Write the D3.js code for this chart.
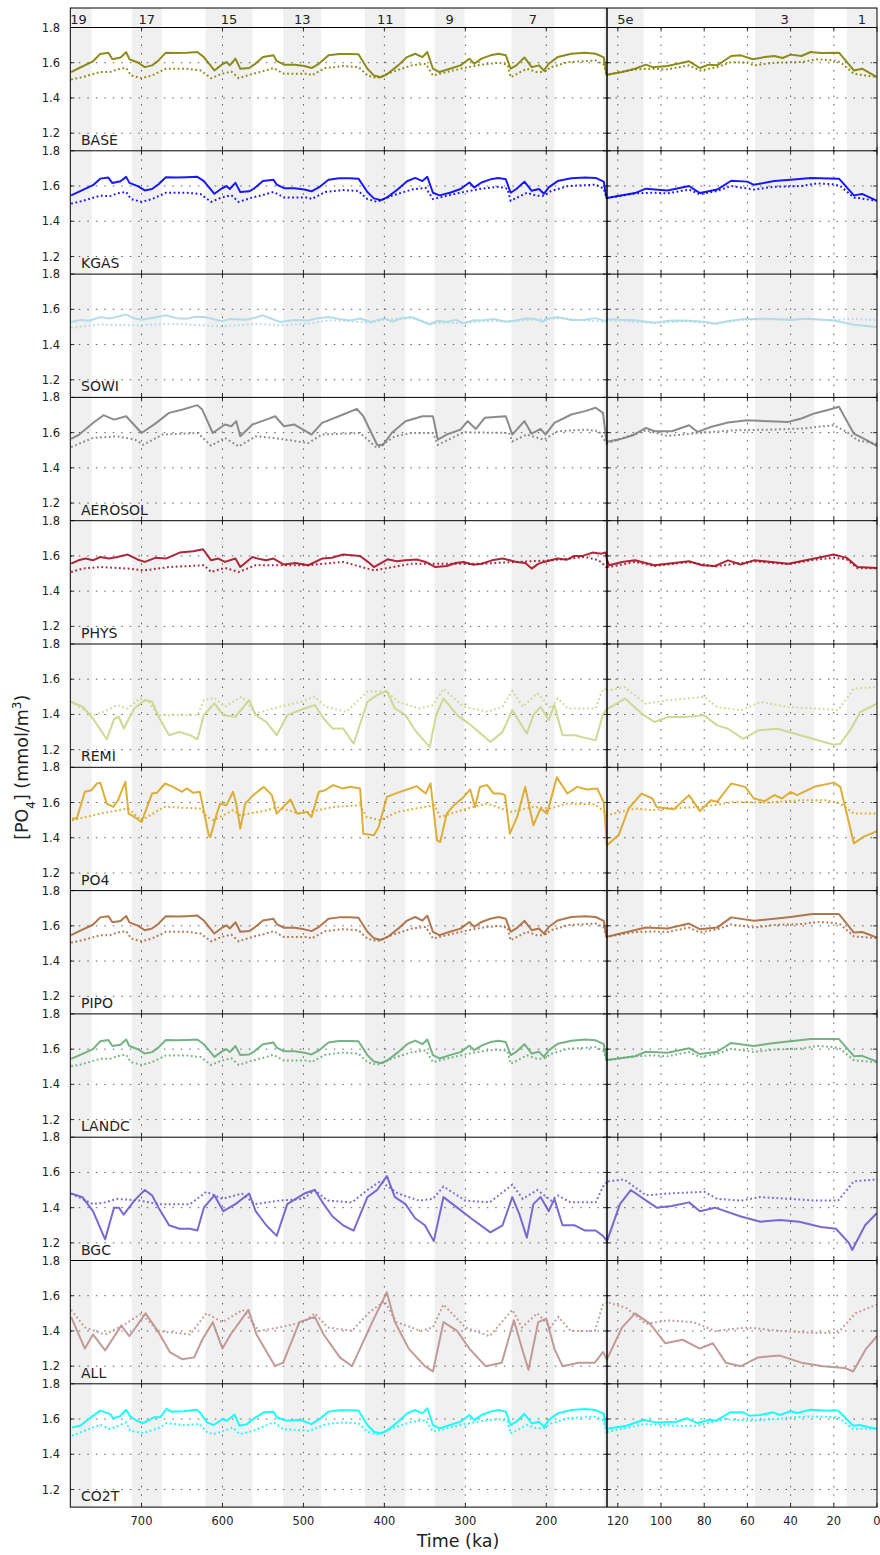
<!DOCTYPE html>
<html>
<head>
<meta charset="utf-8">
<script src="https://cdn.jsdelivr.net/npm/d3@7"></script>
<style>
  body { margin: 0; background: #fff; }
  text { font-family: "DejaVu Sans", sans-serif; fill: #222; }
</style>
</head>
<body>
<svg width="880" height="1555"></svg>
<script>
// ---- data -----------------------------------------------------------
var runNames  = ["BASE", "KGAS", "SOWI", "AEROSOL", "PHYS", "REMI", "PO4", "PIPO", "LANDC", "BGC", "ALL", "CO2T"];
var runColors = ["#808000", "#0000ff", "#add8e6", "#808080", "#a50f25", "#c8d68a", "#daa520", "#a8683c", "#66aa77", "#6a5acd", "#bc8f8f", "#00ffff"];

// interglacial periods (ka), shaded
var interglacials = [[790, 761.6], [712, 675], [621, 563], [525, 478], [424, 374], [338, 301], [243, 190], [129, 108], [56.5, 29], [14, 0]];
var stageLabels   = ["19", "17", "15", "13", "11", "9", "7", "5e", "3", "1"];

var leftTicks  = [700, 600, 500, 400, 300, 200];
var rightTicks = [120, 100, 80, 60, 40, 20, 0];
var yTicks     = [1.2, 1.4, 1.6, 1.8];

// [age ka, PO4 mmol/m3]
var baseSolid = [[787,1.547],[777,1.57],[760,1.608],[751,1.65],[741,1.657],[736,1.62],[726,1.63],[719,1.66],[715,1.62],[704,1.6],[696,1.575],[687,1.585],[679,1.613],[670,1.657],[657,1.655],[644,1.657],[631,1.661],[623,1.632],[610,1.556],[601,1.589],[595,1.604],[591,1.585],[584,1.623],[578,1.566],[567,1.57],[561,1.589],[550,1.632],[537,1.642],[533,1.61],[524,1.589],[511,1.589],[499,1.581],[490,1.57],[481,1.594],[469,1.642],[456,1.65],[443,1.65],[432,1.648],[421,1.566],[413,1.528],[404,1.518],[396,1.537],[383,1.585],[372,1.632],[362,1.651],[353,1.632],[347,1.661],[340,1.566],[332,1.547],[319,1.566],[306,1.585],[295,1.623],[289,1.594],[280,1.623],[269,1.642],[259,1.651],[250,1.642],[244,1.566],[237,1.585],[227,1.63],[218,1.575],[209,1.585],[203,1.556],[197,1.594],[186,1.632],[169,1.651],[152,1.657],[139,1.651],[129,1.63],[125.5,1.531],[118,1.547],[112,1.566],[107,1.589],[104,1.575],[97,1.581],[87,1.608],[82,1.57],[78,1.589],[74,1.585],[67.5,1.638],[63,1.642],[57.5,1.62],[52,1.632],[47.5,1.638],[43.7,1.627],[40,1.646],[35,1.638],[30.7,1.661],[26,1.655],[17.6,1.657],[10.7,1.556],[6.9,1.566],[0,1.518]];
var baseDotted = [[787,1.505],[773,1.518],[751,1.547],[739,1.547],[730,1.562],[719,1.57],[713,1.528],[700,1.512],[687,1.528],[670,1.566],[644,1.566],[627,1.556],[614,1.512],[601,1.537],[589,1.55],[580,1.512],[563,1.537],[546,1.556],[537,1.57],[524,1.537],[494,1.537],[490,1.528],[473,1.57],[451,1.581],[432,1.575],[421,1.528],[409,1.512],[391,1.547],[366,1.585],[349,1.594],[340,1.528],[323,1.547],[302,1.57],[280,1.589],[259,1.6],[248,1.589],[244,1.518],[224,1.566],[212,1.547],[203,1.547],[194,1.575],[173,1.604],[139,1.613],[129,1.59],[125.5,1.531],[112,1.562],[104,1.566],[97,1.562],[87,1.585],[82,1.556],[74,1.575],[67.5,1.604],[60,1.6],[57,1.585],[47.5,1.6],[35,1.604],[27.6,1.62],[20,1.613],[17,1.604],[10.7,1.537],[0,1.518]];

var kgasSolid = [[787,1.547],[777,1.568],[760,1.605],[751,1.642],[741,1.648],[736,1.617],[726,1.627],[719,1.652],[715,1.618],[704,1.598],[696,1.575],[687,1.583],[679,1.61],[670,1.65],[657,1.648],[644,1.65],[631,1.652],[623,1.628],[610,1.556],[601,1.586],[595,1.6],[591,1.583],[584,1.618],[578,1.566],[567,1.57],[561,1.586],[550,1.628],[537,1.636],[533,1.608],[524,1.588],[511,1.588],[499,1.58],[490,1.57],[481,1.592],[469,1.636],[456,1.644],[443,1.644],[432,1.642],[421,1.566],[413,1.53],[404,1.52],[396,1.537],[383,1.583],[372,1.627],[362,1.646],[353,1.628],[347,1.652],[340,1.562],[332,1.547],[319,1.562],[306,1.583],[295,1.62],[289,1.592],[280,1.62],[269,1.638],[259,1.646],[250,1.638],[244,1.562],[237,1.583],[227,1.625],[218,1.573],[209,1.583],[203,1.556],[197,1.592],[186,1.628],[169,1.644],[152,1.648],[139,1.646],[129,1.625],[125.5,1.531],[112,1.56],[107,1.585],[97,1.575],[87,1.6],[82,1.56],[74,1.58],[67.5,1.63],[60,1.625],[57,1.607],[47.5,1.628],[40,1.636],[30.7,1.646],[17.6,1.642],[10.7,1.547],[6.9,1.555],[0,1.516]];
var kgasDotted = [[787,1.5],[773,1.515],[751,1.545],[739,1.543],[730,1.558],[719,1.566],[713,1.526],[700,1.51],[687,1.526],[670,1.562],[644,1.562],[627,1.554],[614,1.51],[601,1.535],[589,1.548],[580,1.51],[563,1.535],[546,1.554],[537,1.566],[524,1.535],[494,1.535],[490,1.526],[473,1.566],[451,1.577],[432,1.572],[421,1.526],[409,1.51],[391,1.545],[366,1.58],[349,1.59],[340,1.526],[323,1.545],[302,1.566],[280,1.585],[259,1.596],[248,1.585],[244,1.516],[224,1.562],[212,1.545],[203,1.545],[194,1.572],[173,1.6],[139,1.608],[129,1.585],[125.5,1.531],[112,1.558],[104,1.562],[97,1.558],[87,1.58],[82,1.553],[74,1.572],[67.5,1.6],[57,1.58],[47.5,1.596],[35,1.6],[27.6,1.615],[20,1.61],[17,1.6],[10.7,1.535],[0,1.516]];

var sowiSolid = [[787,1.528],[775,1.54],[765,1.535],[751,1.556],[740,1.548],[728,1.56],[719,1.571],[710,1.55],[700,1.541],[685,1.552],[670,1.566],[657,1.55],[644,1.547],[633,1.558],[623,1.556],[612,1.545],[601,1.533],[590,1.545],[571,1.541],[560,1.552],[550,1.566],[540,1.548],[529,1.528],[512,1.54],[494,1.537],[482,1.55],[469,1.556],[456,1.545],[443,1.537],[430,1.548],[417,1.528],[408,1.54],[400,1.547],[390,1.53],[380,1.548],[366,1.556],[355,1.535],[344,1.514],[334,1.535],[323,1.528],[312,1.54],[302,1.522],[290,1.538],[280,1.537],[265,1.545],[250,1.53],[237,1.537],[226,1.548],[216,1.547],[205,1.53],[195,1.55],[186,1.556],[170,1.54],[152,1.541],[140,1.55],[126,1.533],[124,1.543],[112,1.538],[103,1.524],[96,1.535],[89,1.537],[80,1.53],[75,1.518],[68,1.535],[63,1.543],[51,1.547],[40,1.54],[32,1.547],[20,1.537],[10.7,1.512],[0,1.5]];
var sowiDotted = [[787,1.495],[751,1.514],[708,1.509],[665,1.518],[623,1.509],[601,1.503],[558,1.518],[529,1.509],[494,1.518],[469,1.537],[443,1.533],[417,1.524],[400,1.541],[366,1.55],[344,1.52],[323,1.524],[302,1.52],[280,1.533],[237,1.533],[216,1.541],[186,1.55],[152,1.537],[126,1.53],[124,1.537],[103,1.522],[89,1.533],[75,1.518],[63,1.54],[51,1.543],[32,1.545],[20,1.537],[10.7,1.547],[0,1.537]];

var aerosolSolid = [[787,1.564],[777,1.589],[760,1.655],[747,1.699],[734,1.674],[719,1.693],[700,1.598],[683,1.651],[666,1.712],[649,1.731],[631,1.756],[625,1.731],[612,1.598],[597,1.646],[589,1.636],[583,1.665],[578,1.579],[563,1.646],[546,1.674],[535,1.693],[524,1.636],[511,1.646],[490,1.589],[477,1.655],[451,1.703],[434,1.735],[426,1.693],[409,1.531],[402,1.528],[391,1.598],[374,1.665],[353,1.693],[340,1.693],[334,1.56],[323,1.589],[306,1.617],[297,1.665],[287,1.621],[276,1.684],[250,1.693],[242,1.589],[227,1.665],[218,1.594],[207,1.621],[201,1.589],[190,1.655],[169,1.703],[152,1.722],[139,1.741],[130,1.712],[125.5,1.547],[118,1.566],[113,1.585],[107,1.627],[103,1.608],[95,1.608],[87,1.642],[83,1.604],[77,1.632],[69,1.657],[60,1.67],[50,1.665],[41,1.661],[35,1.68],[29,1.709],[21.5,1.733],[17.6,1.747],[10.7,1.594],[4.6,1.556],[0,1.524]];
var aerosolDotted = [[787,1.518],[760,1.57],[730,1.579],[708,1.56],[698,1.531],[674,1.589],[631,1.598],[614,1.526],[597,1.57],[580,1.522],[559,1.579],[537,1.57],[494,1.541],[477,1.589],[430,1.598],[409,1.512],[387,1.579],[366,1.598],[340,1.598],[334,1.531],[302,1.602],[246,1.598],[242,1.55],[224,1.589],[203,1.56],[186,1.608],[152,1.617],[135,1.608],[125.5,1.537],[107,1.613],[97,1.581],[81,1.6],[66,1.613],[50,1.617],[35,1.623],[20,1.642],[14,1.604],[9,1.556],[0,1.537]];

var physSolid = [[787,1.556],[778,1.575],[769,1.585],[760,1.575],[751,1.594],[740,1.585],[730,1.594],[717,1.608],[705,1.58],[696,1.566],[683,1.589],[670,1.585],[653,1.619],[636,1.627],[624,1.638],[614,1.575],[605,1.585],[597,1.566],[584,1.585],[578,1.537],[563,1.594],[554,1.582],[546,1.575],[537,1.585],[524,1.551],[510,1.56],[494,1.547],[477,1.585],[465,1.59],[451,1.608],[430,1.6],[420,1.565],[413,1.537],[396,1.581],[385,1.57],[374,1.575],[360,1.58],[349,1.566],[337,1.537],[323,1.543],[312,1.56],[302,1.566],[290,1.55],[280,1.556],[267,1.575],[254,1.585],[245,1.575],[237,1.566],[226,1.56],[218,1.528],[210,1.555],[203,1.566],[186,1.585],[175,1.578],[165,1.6],[155,1.6],[143,1.619],[132,1.613],[126.5,1.62],[124,1.547],[118,1.566],[112,1.575],[103,1.547],[87,1.57],[81,1.547],[75,1.543],[69,1.575],[63,1.551],[57,1.575],[41,1.556],[29,1.585],[20,1.608],[14,1.589],[9,1.537],[0,1.532]];
var physDotted = [[787,1.509],[773,1.528],[751,1.537],[717,1.528],[696,1.518],[666,1.537],[623,1.547],[614,1.509],[597,1.532],[580,1.509],[559,1.547],[494,1.547],[451,1.566],[413,1.518],[366,1.556],[280,1.556],[237,1.566],[194,1.575],[152,1.594],[135,1.575],[126,1.537],[124,1.537],[112,1.566],[103,1.543],[87,1.565],[75,1.54],[57,1.57],[41,1.553],[29,1.578],[20,1.59],[14,1.58],[9,1.53],[0,1.53]];

var remiSolid = [[787,1.472],[773,1.444],[760,1.377],[743,1.259],[734,1.373],[728,1.387],[722,1.32],[709,1.434],[696,1.482],[687,1.472],[679,1.387],[666,1.282],[653,1.301],[640,1.282],[631,1.259],[623,1.396],[610,1.463],[599,1.396],[584,1.387],[567,1.482],[559,1.396],[546,1.358],[533,1.282],[520,1.396],[499,1.434],[486,1.453],[475,1.377],[464,1.32],[451,1.32],[438,1.234],[421,1.472],[409,1.51],[397,1.533],[387,1.434],[374,1.396],[362,1.31],[344,1.215],[336,1.396],[327,1.491],[310,1.396],[293,1.339],[269,1.244],[254,1.301],[242,1.425],[233,1.358],[224,1.291],[216,1.396],[207,1.444],[197,1.368],[190,1.453],[180,1.282],[165,1.282],[152,1.267],[139,1.253],[130,1.4],[124,1.437],[116.6,1.49],[109,1.405],[103,1.357],[97,1.385],[89,1.385],[80,1.395],[74,1.338],[69,1.319],[62,1.262],[55,1.31],[46,1.319],[35,1.281],[20,1.228],[17,1.234],[12,1.319],[7.7,1.414],[0,1.461]];
var remiDotted = [[787,1.472],[760,1.396],[747,1.415],[730,1.453],[717,1.434],[702,1.491],[691,1.472],[679,1.396],[631,1.396],[623,1.482],[610,1.495],[597,1.444],[576,1.501],[559,1.406],[529,1.444],[503,1.472],[486,1.501],[473,1.444],[447,1.415],[421,1.53],[397,1.53],[383,1.472],[357,1.434],[340,1.453],[327,1.545],[302,1.444],[272,1.415],[254,1.444],[242,1.533],[229,1.444],[211,1.52],[194,1.434],[186,1.491],[173,1.434],[139,1.434],[130,1.545],[124,1.537],[117,1.556],[107,1.461],[97,1.48],[80,1.5],[74,1.442],[63,1.424],[54,1.471],[41,1.442],[27.6,1.433],[18,1.424],[10.7,1.547],[0,1.556]];

var po4Solid = [[786,1.509],[780,1.509],[770,1.661],[762,1.67],[755,1.708],[751,1.712],[743,1.594],[735,1.575],[729,1.613],[720,1.718],[716,1.537],[710,1.522],[700,1.49],[687,1.651],[681,1.655],[671,1.708],[661,1.689],[650,1.661],[644,1.68],[636,1.655],[628,1.661],[624,1.575],[617,1.414],[615,1.404],[607,1.537],[603,1.594],[595,1.585],[587,1.661],[583,1.594],[578,1.452],[572,1.594],[562,1.642],[549,1.689],[539,1.642],[533,1.537],[516,1.617],[508,1.537],[496,1.547],[490,1.518],[481,1.661],[473,1.67],[463,1.699],[452,1.68],[442,1.689],[430,1.68],[426,1.423],[413,1.414],[407,1.461],[397,1.632],[384,1.655],[372,1.674],[360,1.693],[349,1.651],[343,1.708],[335,1.385],[331,1.376],[323,1.537],[314,1.585],[302,1.632],[294,1.674],[288,1.575],[282,1.689],[273,1.699],[265,1.651],[257,1.651],[251,1.642],[245,1.423],[236,1.518],[226,1.689],[220,1.556],[216,1.471],[207,1.566],[199,1.537],[187,1.743],[174,1.651],[162,1.689],[150,1.674],[137,1.68],[129,1.6],[125,1.358],[119.6,1.415],[115,1.566],[109,1.651],[104,1.623],[102,1.575],[94,1.562],[87,1.642],[82,1.551],[77,1.613],[74,1.604],[67.5,1.708],[61,1.689],[57,1.623],[52,1.608],[47.5,1.642],[44,1.623],[40,1.66],[37,1.642],[29,1.689],[20,1.713],[17,1.689],[10.7,1.368],[6.1,1.406],[0,1.438]];
var po4Dotted = [[786,1.499],[751,1.537],[717,1.566],[700,1.499],[679,1.556],[671,1.575],[628,1.566],[619,1.518],[611,1.499],[587,1.556],[578,1.528],[545,1.556],[533,1.575],[505,1.537],[492,1.547],[463,1.575],[430,1.585],[422,1.518],[405,1.499],[384,1.547],[338,1.585],[331,1.518],[298,1.566],[273,1.594],[244,1.547],[216,1.575],[195,1.566],[174,1.594],[140,1.59],[128,1.547],[125,1.528],[112,1.566],[104,1.557],[97,1.566],[81,1.575],[66,1.604],[51,1.6],[35,1.613],[23,1.613],[17,1.594],[10.7,1.538],[0,1.538]];

var pipoSolid = [[787,1.547],[777,1.57],[760,1.606],[751,1.648],[741,1.655],[736,1.62],[726,1.628],[719,1.656],[715,1.62],[704,1.6],[696,1.575],[687,1.585],[679,1.612],[670,1.655],[657,1.653],[644,1.655],[631,1.658],[623,1.63],[610,1.556],[601,1.588],[595,1.603],[591,1.585],[584,1.62],[578,1.566],[567,1.57],[561,1.588],[550,1.63],[537,1.64],[533,1.61],[524,1.589],[511,1.589],[499,1.58],[490,1.57],[481,1.593],[469,1.64],[456,1.648],[443,1.648],[432,1.646],[421,1.566],[413,1.53],[404,1.52],[396,1.537],[383,1.584],[372,1.63],[362,1.65],[353,1.63],[347,1.658],[340,1.566],[332,1.547],[319,1.566],[306,1.584],[295,1.622],[289,1.594],[280,1.622],[269,1.64],[259,1.65],[250,1.64],[244,1.566],[237,1.585],[227,1.628],[218,1.575],[209,1.585],[203,1.556],[197,1.593],[186,1.63],[169,1.65],[152,1.655],[139,1.65],[129,1.628],[125.5,1.537],[107,1.59],[97,1.585],[87,1.613],[82,1.581],[74,1.59],[67.5,1.648],[57,1.629],[47.5,1.64],[40,1.65],[30,1.667],[17.6,1.667],[10.7,1.562],[6.9,1.565],[0,1.533]];
var pipoDotted = [[787,1.505],[773,1.518],[751,1.547],[739,1.547],[730,1.562],[719,1.57],[713,1.528],[700,1.512],[687,1.528],[670,1.566],[644,1.566],[627,1.556],[614,1.512],[601,1.537],[589,1.55],[580,1.512],[563,1.537],[546,1.556],[537,1.57],[524,1.537],[494,1.537],[490,1.528],[473,1.57],[451,1.581],[432,1.575],[421,1.528],[409,1.512],[391,1.547],[366,1.585],[349,1.594],[340,1.528],[323,1.547],[302,1.57],[280,1.589],[259,1.6],[248,1.589],[244,1.518],[224,1.566],[212,1.547],[203,1.547],[194,1.575],[173,1.604],[139,1.613],[129,1.59],[125.5,1.537],[112,1.565],[104,1.568],[97,1.565],[87,1.59],[82,1.562],[74,1.58],[67.5,1.608],[57,1.59],[47.5,1.605],[35,1.61],[27.6,1.622],[20,1.617],[17,1.608],[10.7,1.54],[0,1.53]];

var landcSolid = [[787,1.545],[777,1.565],[760,1.6],[751,1.645],[741,1.652],[736,1.618],[726,1.625],[719,1.655],[715,1.618],[704,1.598],[696,1.575],[687,1.583],[679,1.61],[670,1.652],[657,1.65],[644,1.652],[631,1.655],[623,1.628],[610,1.556],[601,1.586],[595,1.6],[591,1.583],[584,1.618],[578,1.566],[567,1.57],[561,1.586],[550,1.628],[537,1.638],[533,1.608],[524,1.588],[511,1.588],[499,1.58],[490,1.57],[481,1.592],[469,1.638],[456,1.646],[443,1.646],[432,1.645],[421,1.566],[413,1.53],[404,1.52],[396,1.537],[383,1.583],[372,1.628],[362,1.648],[353,1.628],[347,1.655],[340,1.566],[332,1.547],[319,1.566],[306,1.583],[295,1.62],[289,1.594],[280,1.62],[269,1.64],[259,1.648],[250,1.64],[244,1.566],[237,1.585],[227,1.628],[218,1.575],[209,1.585],[203,1.556],[197,1.593],[186,1.63],[169,1.648],[152,1.655],[139,1.65],[129,1.628],[125.5,1.537],[112,1.56],[107,1.585],[97,1.58],[87,1.605],[82,1.572],[74,1.585],[67.5,1.635],[57,1.618],[47.5,1.635],[40,1.645],[30.7,1.658],[17.6,1.657],[10.7,1.56],[6.9,1.562],[0,1.53]];
var landcDotted = [[787,1.502],[773,1.515],[751,1.545],[739,1.545],[730,1.56],[719,1.568],[713,1.526],[700,1.51],[687,1.526],[670,1.564],[644,1.564],[627,1.555],[614,1.51],[601,1.535],[589,1.548],[580,1.51],[563,1.535],[546,1.555],[537,1.568],[524,1.535],[494,1.535],[490,1.526],[473,1.568],[451,1.58],[432,1.574],[421,1.526],[409,1.51],[391,1.546],[366,1.583],[349,1.592],[340,1.526],[323,1.546],[302,1.568],[280,1.588],[259,1.598],[248,1.588],[244,1.516],[224,1.565],[212,1.546],[203,1.546],[194,1.574],[173,1.602],[139,1.611],[129,1.588],[125.5,1.535],[112,1.56],[104,1.564],[97,1.56],[87,1.583],[82,1.555],[74,1.573],[67.5,1.602],[57,1.584],[47.5,1.598],[35,1.603],[27.6,1.618],[20,1.612],[17,1.602],[10.7,1.537],[0,1.525]];

var bgcSolid = [[787,1.48],[773,1.46],[760,1.38],[745,1.22],[734,1.4],[728,1.4],[722,1.36],[709,1.44],[696,1.5],[687,1.47],[679,1.4],[666,1.3],[653,1.28],[640,1.28],[631,1.27],[623,1.4],[610,1.47],[599,1.38],[584,1.42],[567,1.48],[559,1.38],[546,1.3],[533,1.24],[520,1.42],[499,1.48],[486,1.5],[475,1.42],[464,1.35],[451,1.3],[438,1.27],[421,1.46],[409,1.5],[397,1.58],[387,1.46],[374,1.42],[362,1.34],[350,1.3],[339,1.21],[327,1.46],[310,1.4],[293,1.34],[269,1.26],[254,1.3],[242,1.46],[233,1.36],[224,1.23],[216,1.42],[207,1.46],[197,1.38],[190,1.45],[180,1.3],[165,1.3],[152,1.27],[139,1.27],[130,1.24],[125,1.21],[119,1.42],[114,1.5],[108,1.45],[102,1.4],[95,1.41],[87,1.43],[82,1.38],[75,1.4],[63,1.35],[54,1.32],[45,1.33],[36,1.32],[26,1.29],[19,1.28],[13,1.2],[11.5,1.16],[5.5,1.3],[0,1.37]];
var bgcDotted = [[787,1.48],[760,1.42],[745,1.43],[730,1.45],[702,1.44],[679,1.42],[640,1.42],[620,1.49],[600,1.45],[576,1.48],[560,1.42],[530,1.44],[500,1.45],[486,1.5],[470,1.44],[440,1.43],[421,1.5],[405,1.55],[383,1.48],[357,1.44],[340,1.45],[327,1.52],[300,1.44],[270,1.43],[242,1.53],[229,1.45],[211,1.5],[194,1.44],[186,1.47],[170,1.43],[139,1.43],[130,1.52],[124,1.55],[117,1.56],[107,1.47],[97,1.48],[80,1.49],[74,1.45],[63,1.44],[54,1.46],[41,1.45],[28,1.44],[18,1.44],[10.7,1.55],[0,1.56]];

var allSolid = [[787,1.48],[770,1.3],[760,1.38],[745,1.29],[725,1.43],[715,1.37],[695,1.5],[680,1.4],[665,1.28],[650,1.24],[635,1.25],[625,1.35],[612,1.45],[600,1.3],[590,1.38],[568,1.52],[558,1.38],[535,1.2],[525,1.22],[505,1.45],[486,1.48],[475,1.38],[455,1.25],[440,1.2],[415,1.45],[397,1.62],[387,1.45],[370,1.3],[350,1.2],[340,1.17],[327,1.45],[310,1.4],[295,1.3],[275,1.2],[255,1.22],[240,1.46],[230,1.3],[222,1.18],[210,1.45],[200,1.47],[190,1.3],[180,1.2],[160,1.22],[140,1.22],[130,1.28],[125,1.24],[118,1.42],[112,1.5],[105,1.44],[98,1.33],[90,1.35],[82,1.3],[76,1.33],[70,1.22],[63,1.2],[55,1.25],[45,1.26],[35,1.22],[25,1.2],[15,1.19],[11,1.17],[5,1.3],[0,1.37]];
var allDotted = [[787,1.52],[770,1.42],[745,1.38],[720,1.44],[700,1.5],[680,1.4],[640,1.38],[620,1.5],[600,1.45],[575,1.52],[555,1.4],[530,1.42],[500,1.45],[486,1.5],[470,1.42],[440,1.4],[420,1.5],[400,1.57],[385,1.45],[355,1.4],[340,1.42],[327,1.55],[300,1.42],[270,1.37],[242,1.52],[230,1.42],[211,1.5],[195,1.42],[185,1.48],[170,1.4],[140,1.4],[130,1.55],[124,1.56],[116,1.53],[107,1.44],[97,1.46],[85,1.45],[75,1.4],[60,1.42],[45,1.4],[30,1.39],[18,1.39],[10,1.5],[0,1.55]];

var co2tSolid = [[786,1.552],[776,1.562],[764,1.604],[751,1.648],[739,1.629],[735,1.604],[727,1.615],[719,1.653],[714,1.615],[706,1.59],[698,1.577],[685,1.61],[677,1.61],[669,1.657],[663,1.642],[648,1.644],[632,1.653],[628,1.638],[619,1.581],[611,1.566],[600,1.6],[595,1.59],[591,1.604],[585,1.625],[579,1.562],[570,1.571],[562,1.6],[549,1.638],[537,1.642],[533,1.61],[521,1.59],[504,1.596],[490,1.571],[479,1.604],[469,1.642],[456,1.65],[443,1.65],[432,1.648],[421,1.566],[413,1.528],[404,1.518],[396,1.537],[383,1.585],[372,1.632],[362,1.651],[353,1.632],[347,1.661],[340,1.566],[332,1.547],[319,1.566],[306,1.585],[295,1.623],[289,1.594],[280,1.623],[269,1.642],[259,1.651],[250,1.642],[244,1.566],[237,1.585],[227,1.63],[218,1.575],[209,1.585],[203,1.556],[197,1.594],[186,1.632],[169,1.651],[152,1.657],[139,1.651],[129,1.63],[125.7,1.543],[116,1.562],[108,1.596],[102.5,1.581],[93,1.585],[88,1.604],[83,1.577],[77.7,1.596],[74.6,1.59],[68,1.638],[62,1.638],[59,1.619],[54,1.623],[48,1.638],[45,1.623],[40,1.644],[37,1.634],[31,1.653],[25,1.648],[18,1.648],[11,1.562],[8,1.566],[0,1.543]];
var co2tDotted = [[786,1.505],[751,1.568],[739,1.543],[719,1.581],[714,1.533],[698,1.52],[677,1.552],[669,1.577],[648,1.566],[628,1.571],[619,1.524],[611,1.514],[587,1.552],[579,1.514],[562,1.533],[537,1.581],[525,1.543],[492,1.533],[473,1.57],[451,1.581],[432,1.575],[421,1.528],[409,1.512],[391,1.547],[366,1.585],[349,1.594],[340,1.528],[323,1.547],[302,1.57],[280,1.589],[259,1.6],[248,1.589],[244,1.518],[224,1.566],[212,1.547],[203,1.547],[194,1.575],[173,1.604],[139,1.613],[129,1.59],[125.7,1.524],[108,1.571],[93,1.562],[83,1.562],[71,1.6],[59,1.59],[47,1.6],[39,1.61],[31,1.615],[18,1.61],[11,1.543],[0,1.547]];

var runSeries = [
  [baseSolid, baseDotted], [kgasSolid, kgasDotted], [sowiSolid, sowiDotted],
  [aerosolSolid, aerosolDotted], [physSolid, physDotted], [remiSolid, remiDotted],
  [po4Solid, po4Dotted], [pipoSolid, pipoDotted], [landcSolid, landcDotted],
  [bgcSolid, bgcDotted], [allSolid, allDotted], [co2tSolid, co2tDotted]
];

// ---- layout ---------------------------------------------------------
var plotLeft = 70.3, plotSplit = 607, plotRight = 877;
var bandTop = 8, plotTop = 27.5, rowH = 123.3;
var plotBottom = plotTop + rowH * runNames.length;

var svg = d3.select("svg");

var xLeft  = d3.scaleLinear().domain([788, 125]).range([plotLeft, plotSplit]);
var xRight = d3.scaleLinear().domain([125, 0]).range([plotSplit, plotRight]);
var sides = [
  { x: xLeft,  ticks: leftTicks,  name: "L" },
  { x: xRight, ticks: rightTicks, name: "R" }
];

function bandRects(g, x, y0, y1) {
  var xc = x.copy().clamp(true);
  g.selectAll(null)
    .data(interglacials)
    .enter().append("rect")
    .attr("x", function(d) { return xc(d[0]); })
    .attr("width", function(d) { return Math.max(0, xc(d[1]) - xc(d[0])); })
    .attr("y", y0)
    .attr("height", y1 - y0)
    .attr("fill", "#f0f0f0");
}

// top strip with stage numbers
sides.forEach(function(side) {
  bandRects(svg.append("g"), side.x, bandTop, plotTop);
});
svg.append("g").selectAll("text")
  .data(interglacials)
  .enter().append("text")
  .attr("x", function(d, i) {
    var xs = (d[1] >= 125 ? xLeft : xRight).copy().clamp(true);
    if (i == 7) xs = xRight.copy().clamp(true);
    return (xs(d[0]) + xs(d[1])) / 2 - (i == 0 ? 2.5 : 0);
  })
  .attr("y", 23.5)
  .attr("text-anchor", "middle")
  .style("font-size", "13px")
  .text(function(d, i) { return stageLabels[i]; });

// panels
runNames.forEach(function(run, i) {
  var y0 = plotTop + i * rowH, y1 = y0 + rowH;
  var y = d3.scaleLinear().domain([1.1, 1.8]).range([y1, y0]);

  sides.forEach(function(side) {
    var x = side.x;
    var xa = x.range()[0], xb = x.range()[1];
    var g = svg.append("g");

    bandRects(g, x, y0, y1);

    // grid
    g.selectAll(null)
      .data(yTicks.filter(function(v) { return v < 1.8; }))
      .enter().append("line")
      .attr("x1", xa).attr("x2", xb)
      .attr("y1", function(d) { return y(d); })
      .attr("y2", function(d) { return y(d); })
      .attr("stroke", "#333").attr("stroke-width", 0.8)
      .attr("stroke-dasharray", "1.5,7");
    g.selectAll(null)
      .data(side.ticks.filter(function(t) { return t > 0; }))
      .enter().append("line")
      .attr("x1", function(d) { return x(d); })
      .attr("x2", function(d) { return x(d); })
      .attr("y1", y0).attr("y2", y1)
      .attr("stroke", "#333").attr("stroke-width", 0.8)
      .attr("stroke-dasharray", "1.5,7");

    // ticks pointing inwards
    g.selectAll(null)
      .data(yTicks)
      .enter().append("path")
      .attr("d", function(d) {
        return "M" + xa + "," + y(d) + "h4M" + xb + "," + y(d) + "h-4";
      })
      .attr("stroke", "#000").attr("stroke-width", 0.8);
    g.selectAll(null)
      .data(side.ticks)
      .enter().append("path")
      .attr("d", function(d) {
        return "M" + x(d) + "," + y0 + "v4M" + x(d) + "," + y1 + "v-4";
      })
      .attr("stroke", "#000").attr("stroke-width", 0.8);

    // curves
    var clipId = "clip-" + i + side.name;
    svg.append("clipPath").attr("id", clipId)
      .append("rect")
      .attr("x", xa).attr("y", y0)
      .attr("width", xb - xa).attr("height", y1 - y0);

    var line = d3.line()
      .x(function(d) { return x(d[0]); })
      .y(function(d) { return y(d[1]); });

    var lines = g.append("g").attr("clip-path", "url(#" + clipId + ")");
    lines.append("path")
      .datum(runSeries[i][1])
      .attr("d", line)
      .attr("fill", "none")
      .attr("stroke", runColors[i])
      .attr("stroke-width", 2)
      .attr("stroke-dasharray", "1.8,2.6")
      .attr("opacity", 0.9);
    lines.append("path")
      .datum(runSeries[i][0])
      .attr("d", line)
      .attr("fill", "none")
      .attr("stroke", runColors[i])
      .attr("stroke-width", 2)
      .attr("stroke-linejoin", "round")
      .attr("opacity", 0.9);
  });

  // y tick labels
  svg.append("g").selectAll("text")
    .data(yTicks)
    .enter().append("text")
    .attr("x", 60)
    .attr("y", function(d) { return y(d); })
    .attr("dy", "0.35em")
    .attr("text-anchor", "end")
    .style("font-size", "11.5px")
    .text(function(d) { return d3.format(".1f")(d); });

  svg.append("text")
    .attr("x", 81)
    .attr("y", y1 - 6)
    .style("font-size", "14px")
    .text(run);

  // panel frame lines
  svg.append("line")
    .attr("x1", plotLeft).attr("x2", plotRight)
    .attr("y1", y0).attr("y2", y0)
    .attr("stroke", "#000").attr("stroke-width", 1);
});

// outer frame
svg.append("rect")
  .attr("x", plotLeft).attr("y", bandTop)
  .attr("width", plotRight - plotLeft).attr("height", plotBottom - bandTop)
  .attr("fill", "none").attr("stroke", "#000").attr("stroke-width", 1);
svg.append("line")
  .attr("x1", plotSplit).attr("x2", plotSplit)
  .attr("y1", bandTop).attr("y2", plotBottom)
  .attr("stroke", "#000").attr("stroke-width", 1.5);

// bottom axis labels
sides.forEach(function(side) {
  svg.append("g").selectAll("text")
    .data(side.ticks)
    .enter().append("text")
    .attr("x", function(d) { return side.x(d); })
    .attr("y", plotBottom + 18)
    .attr("text-anchor", "middle")
    .style("font-size", "11.5px")
    .text(function(d) { return d; });
});

svg.append("text")
  .attr("x", 458)
  .attr("y", 1547)
  .attr("text-anchor", "middle")
  .style("font-size", "17.5px")
  .text("Time (ka)");

var ylab = svg.append("text")
  .attr("transform", "translate(28," + ((plotTop + plotBottom) / 2) + ") rotate(-90)")
  .attr("text-anchor", "middle")
  .style("font-size", "17.5px");
ylab.append("tspan").text("[PO");
ylab.append("tspan").attr("baseline-shift", "sub").style("font-size", "12px").text("4");
ylab.append("tspan").text("] (mmol/m");
ylab.append("tspan").attr("baseline-shift", "super").style("font-size", "12px").text("3");
ylab.append("tspan").text(")");
</script>
</body>
</html>
